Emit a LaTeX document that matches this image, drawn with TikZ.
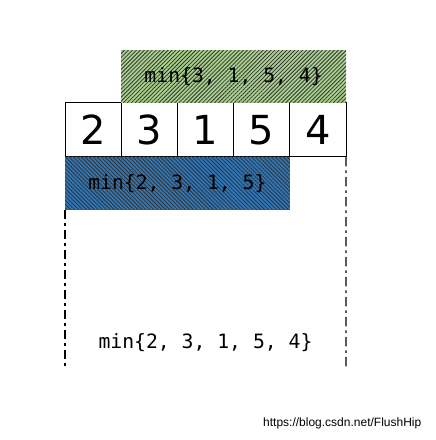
\documentclass[tikz,border=0pt]{standalone}
\usepackage{fontspec}
\setmonofont{DejaVu Sans Mono}
\newfontfamily\cellfont{DejaVu Sans}
\newfontfamily\markfont{Liberation Sans}
\usepackage{tikz}
\usetikzlibrary{positioning,patterns.meta}
\definecolor{greenfill}{HTML}{A9D18E}
\definecolor{bluefill}{HTML}{2E75B6}
\tikzset{
	x=0.75pt,
	y=0.75pt,
	cell/.style={
		draw=black,
		line width=0.75pt,
		minimum width=42.15pt,
		minimum height=40.5pt,
		inner sep=0pt,
		outer sep=0pt,
		font=\cellfont\fontsize{30}{30}\selectfont
	},
	hatchbox/.style={
		minimum height=39.5pt,
		inner sep=0pt,
		outer sep=0pt,
		font=\ttfamily\fontsize{14.8}{14.8}\selectfont,
		preaction={fill=#1},
		pattern color=black!80
	},
	guide/.style={
		line width=1pt,
		dash pattern=on 7pt off 3pt on 2pt off 3pt
	}
}

\begin{document}
\begin{tikzpicture}
  \useasboundingbox (0,0) rectangle (436,440);

  % the array
  \node [cell] (c1) at (93.1,310) {2};
  \node [cell, right=0pt of c1] (c2) {3};
  \node [cell, right=0pt of c2] (c3) {1};
  \node [cell, right=0pt of c3] (c4) {5};
  \node [cell, right=0pt of c4] (c5) {4};

  % the two ranges
  \node [hatchbox=greenfill, pattern={Lines[angle=45,distance=2.1pt,line width=0.6pt]},
    minimum width=168.6pt, anchor=south west] (rmin) at (c2.north west) {min\{3, 1, 5, 4\}};
  \node [hatchbox=bluefill, pattern={Lines[angle=-45,distance=2.1pt,line width=0.6pt]},
    minimum width=168.6pt, anchor=north west] (lmin) at (c1.south west) {min\{2, 3, 1, 5\}};

  % the whole range
  \node [font=\ttfamily\fontsize{14.8}{14.8}\selectfont] (amin) at (205.5,97) {min\{2, 3, 1, 5, 4\}};
  \coordinate (lend) at (65,71);
  \coordinate (rend) at (346,71);
  \draw [guide] (lmin.south west) -- (lend);
  \draw [guide] (c5.south east) -- (rend);

  \node [font=\markfont\fontsize{9}{9}\selectfont, anchor=east] (mark) at (426,17) {https://blog.csdn.net/FlushHip};
\end{tikzpicture}
\end{document}
